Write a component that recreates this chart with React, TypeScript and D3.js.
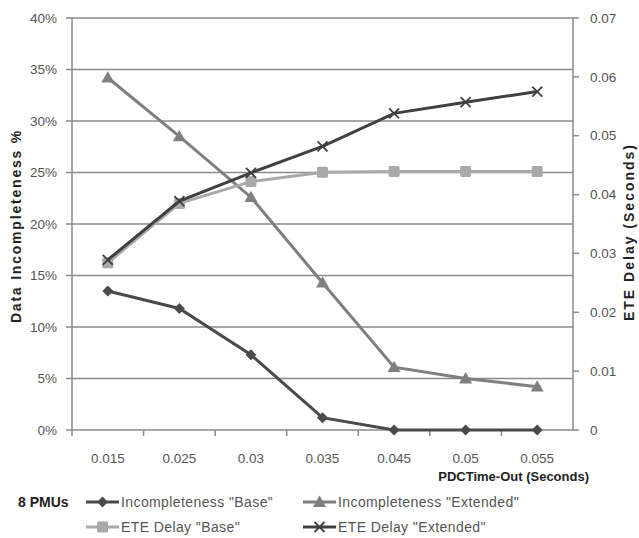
import React from "react";
import * as d3 from "d3";

const categories = ["0.015", "0.025", "0.03", "0.035", "0.045", "0.05", "0.055"];
const incompletenessBase = [0.135, 0.118, 0.073, 0.012, 0, 0, 0];
const incompletenessExtended = [0.342, 0.285, 0.226, 0.143, 0.061, 0.05, 0.042];
const eteDelayBase = [0.0284, 0.0385, 0.0422, 0.0438, 0.0439, 0.0439, 0.0439];
const eteDelayExtended = [0.0289, 0.0389, 0.0437, 0.0482, 0.0538, 0.0557, 0.0575];
const leftTicks = [0, 0.05, 0.1, 0.15, 0.2, 0.25, 0.3, 0.35, 0.4];
const rightTicks = [0, 0.01, 0.02, 0.03, 0.04, 0.05, 0.06, 0.07];

const W = 639, H = 538;
const L = 72, R = 573, T = 18, B = 430;
const FONT = "'Liberation Sans', Arial, sans-serif";

type Marker = "diamond" | "triangle" | "square" | "x";

function MarkerShape({ type, x, y, color }: { type: Marker; x: number; y: number; color: string }) {
  if (type === "diamond") {
    const s = 5.5;
    return <path d={`M${x},${y - s}L${x + s},${y}L${x},${y + s}L${x - s},${y}Z`} fill={color} />;
  }
  if (type === "triangle") {
    const s = 6.5;
    return <path d={`M${x},${y - s}L${x + s},${y + s * 0.75}L${x - s},${y + s * 0.75}Z`} fill={color} />;
  }
  if (type === "square") {
    const s = 5.5;
    return <rect x={x - s} y={y - s} width={2 * s} height={2 * s} rx={1.5} fill={color} />;
  }
  const s = 5;
  return (
    <g stroke={color} strokeWidth={1.8}>
      <line x1={x - s} y1={y - s} x2={x + s} y2={y + s} />
      <line x1={x - s} y1={y + s} x2={x + s} y2={y - s} />
    </g>
  );
}

export default function App() {
  const xBand = d3.scaleBand<string>().domain(categories).range([L, R]);
  const xc = (c: string) => (xBand(c) as number) + xBand.bandwidth() / 2;
  const yL = d3.scaleLinear().domain([0, 0.4]).range([B, T]);
  const yR = d3.scaleLinear().domain([0, 0.07]).range([B, T]);

  const series = [
    { name: 'Incompleteness "Extended"', data: incompletenessExtended, scale: yL, color: "#7f7f7f", marker: "triangle" as Marker },
    { name: 'ETE Delay "Base"', data: eteDelayBase, scale: yR, color: "#a9a9a9", marker: "square" as Marker },
    { name: 'ETE Delay "Extended"', data: eteDelayExtended, scale: yR, color: "#404040", marker: "x" as Marker },
    { name: 'Incompleteness "Base"', data: incompletenessBase, scale: yL, color: "#4a4a4a", marker: "diamond" as Marker },
  ];

  const gridColor = "#8a8a8a";
  const tickColor = "#555";

  const legend = [
    { s: series[3], x: 86, y: 502 },
    { s: series[0], x: 303, y: 502 },
    { s: series[1], x: 86, y: 527 },
    { s: series[2], x: 303, y: 527 },
  ];

  return (
    <svg width={W} height={H} style={{ position: "absolute", left: 0, top: 0, background: "#fff" }} fontFamily={FONT}>
      <rect width={W} height={H} fill="#fff" />
      {leftTicks.map((t) => (
        <line key={"g" + t} x1={L} x2={R} y1={yL(t)} y2={yL(t)} stroke={gridColor} strokeWidth={1.5} />
      ))}
      <line x1={L} x2={L} y1={T} y2={B + 6} stroke={gridColor} strokeWidth={1.5} />
      <line x1={R} x2={R} y1={T} y2={B} stroke={gridColor} strokeWidth={1.5} />
      {leftTicks.map((t) => (
        <g key={"lt" + t}>
          <line x1={L - 6} x2={L} y1={yL(t)} y2={yL(t)} stroke={gridColor} strokeWidth={1.5} />
          <text x={L - 15} y={yL(t)} dy="0.35em" textAnchor="end" fontSize={13.5} fill={tickColor}>
            {d3.format(".0%")(t)}
          </text>
        </g>
      ))}
      {rightTicks.map((t) => (
        <g key={"rt" + t}>
          <line x1={R} x2={R + 6} y1={yR(t)} y2={yR(t)} stroke={gridColor} strokeWidth={1.5} />
          <text x={R + 17} y={yR(t)} dy="0.35em" textAnchor="start" fontSize={13.5} fill={tickColor}>
            {String(t)}
          </text>
        </g>
      ))}
      {categories.map((c, i) => (
        <g key={"xt" + c}>
          {i > 0 && (
            <line x1={xBand(c) as number} x2={xBand(c) as number} y1={B} y2={B + 6} stroke={gridColor} strokeWidth={1.5} />
          )}
          <text x={xc(c)} y={B + 33} textAnchor="middle" fontSize={13.5} fill={tickColor}>
            {c}
          </text>
        </g>
      ))}
      {series.map((s) => {
        const line = d3
          .line<number>()
          .x((_, i) => xc(categories[i]))
          .y((d) => s.scale(d));
        return (
          <g key={s.name}>
            <path d={line(s.data) || ""} fill="none" stroke={s.color} strokeWidth={3} />
            {s.data.map((d, i) => (
              <MarkerShape key={i} type={s.marker} x={xc(categories[i])} y={s.scale(d)} color={s.color} />
            ))}
          </g>
        );
      })}
      <text transform="translate(21,226) rotate(-90)" textAnchor="middle" fontSize={14} fontWeight="bold" fill="#222" letterSpacing={1.8}>
        Data Incompleteness %
      </text>
      <text transform="translate(634,232) rotate(-90)" textAnchor="middle" fontSize={14} fontWeight="bold" fill="#222" letterSpacing={2}>
        ETE Delay (Seconds)
      </text>
      <text x={589} y={481} textAnchor="end" fontSize={13} fontWeight="bold" fill="#222">
        PDCTime-Out (Seconds)
      </text>
      <text x={18} y={507} fontSize={14} fontWeight="bold" fill="#222">
        8 PMUs
      </text>
      {legend.map(({ s, x, y }) => (
        <g key={"lg" + s.name}>
          <line x1={x} x2={x + 33} y1={y} y2={y} stroke={s.color} strokeWidth={3} />
          <MarkerShape type={s.marker} x={x + 16.5} y={y} color={s.color} />
          <text x={x + 35} y={y} dy="0.35em" fontSize={14} fill="#555" letterSpacing={0.4}>
            {s.name}
          </text>
        </g>
      ))}
    </svg>
  );
}
